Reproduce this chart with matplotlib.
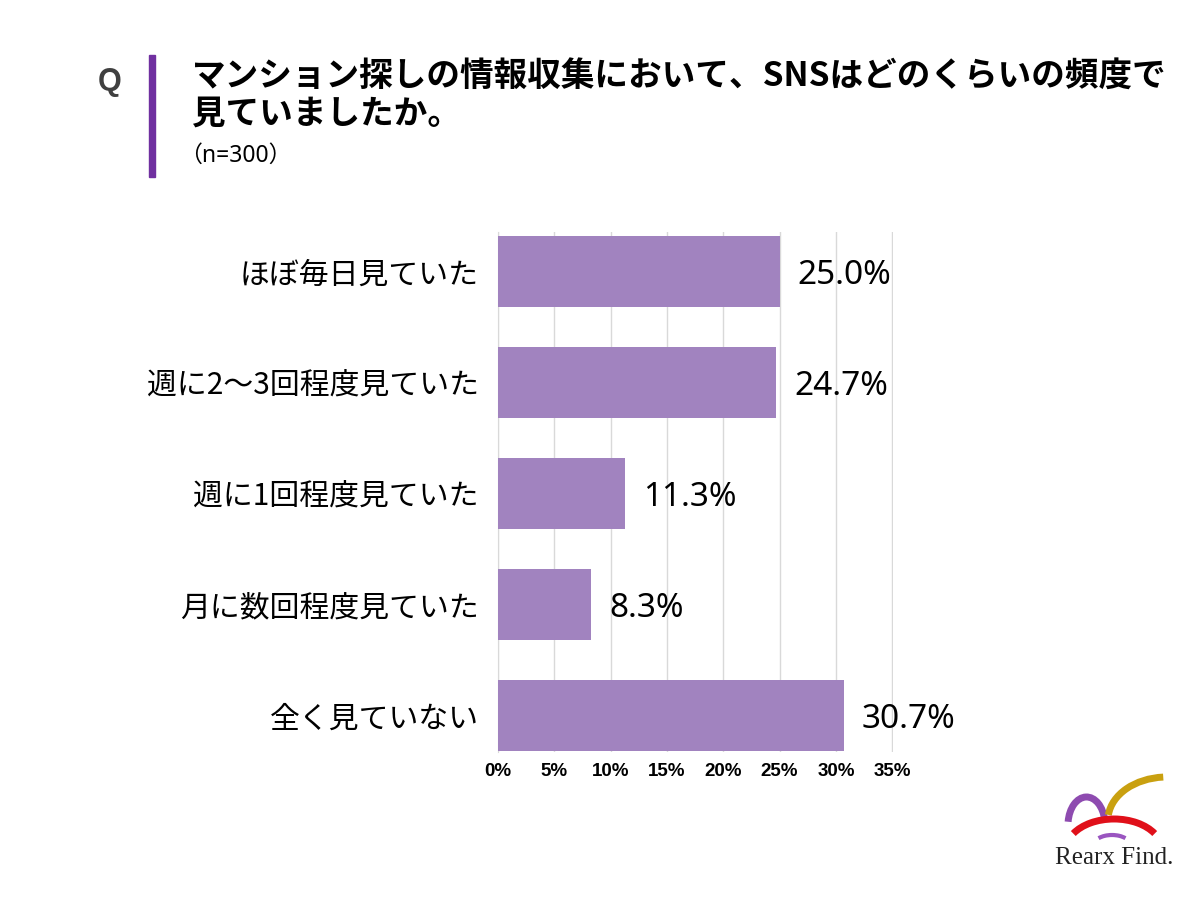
import matplotlib.pyplot as plt
from matplotlib.patches import Arc, Rectangle

plt.rcParams['font.family'] = ['Noto Sans CJK JP', 'DejaVu Sans']

# data
categories = ["ほぼ毎日見ていた", "週に2〜3回程度見ていた", "週に1回程度見ていた",
              "月に数回程度見ていた", "全く見ていない"]
values = [25.0, 24.7, 11.3, 8.3, 30.7]
xticks = [0, 5, 10, 15, 20, 25, 30, 35]
xtick_labels = [f"{t}%" for t in xticks]

bar_color = "#A183BF"
grid_color = "#D9D9D9"

fig = plt.figure(figsize=(12, 9), dpi=100)
ax = fig.add_axes([0.415, 0.1644, 0.3295, 0.578])

y = list(range(len(categories)))
ax.barh(y, values, height=0.64, color=bar_color, zorder=3)
ax.set_xlim(0, 35.1)
ax.set_ylim(4.33, -0.36)
ax.set_xticks(xticks)
ax.set_xticklabels(xtick_labels, fontsize=13.5, fontweight="bold",
                   family=["Liberation Sans", "DejaVu Sans"])
ax.set_yticks(y)
ax.set_yticklabels(categories, fontsize=21.5)
ax.tick_params(axis="both", length=0)
ax.tick_params(axis="y", pad=14)
ax.tick_params(axis="x", pad=8)
ax.grid(axis="x", color=grid_color, linewidth=1, zorder=0)
for s in ["top", "right", "bottom"]:
    ax.spines[s].set_visible(False)
ax.spines["left"].set_color(grid_color)

# value labels
for i, v in enumerate(values):
    ax.annotate(f"{v:.1f}%", (v, i), xytext=(13, -3), textcoords="offset points",
                va="center", ha="left", fontsize=24,
                family=["Noto Sans", "DejaVu Sans"])

# header
fig.text(110 / 1200, 1 - 82 / 900, "Q", fontsize=22, fontweight="bold",
         color="#404040", ha="center", va="center",
         family=["Liberation Sans", "DejaVu Sans"])
fig.add_artist(Rectangle((149 / 1200, 1 - 177 / 900), 6 / 1200, 122 / 900,
                         color="#7030A0", transform=fig.transFigure))
fig.text(192 / 1200, 1 - 77 / 900,
         "マンション探しの情報収集において、SNSはどのくらいの頻度で",
         fontsize=24.2, fontweight="bold", ha="left", va="center")
fig.text(192 / 1200, 1 - 114 / 900, "見ていましたか。",
         fontsize=24.2, fontweight="bold", ha="left", va="center")
fig.text(179 / 1200, 1 - 156 / 900, "（n=300）", fontsize=16.5,
         ha="left", va="center", family=["Noto Sans", "Noto Sans CJK JP"])

# logo
logo = fig.add_axes([1045 / 1200, 1 - 850 / 900, 130 / 1200, 80 / 900])
logo.set_xlim(0, 130)
logo.set_ylim(0, 80)
logo.axis("off")
logo.add_patch(Arc((41.5, 25), 37, 56, theta1=15, theta2=170, color="#8E4BB0", lw=5))
logo.add_patch(Arc((122, 30), 118, 86, theta1=95, theta2=175, color="#C9A010", lw=5))
logo.add_patch(Arc((69, 0), 96, 62, theta1=22, theta2=158, color="#E0101A", lw=5))
logo.add_patch(Arc((67, 4), 38, 22, theta1=30, theta2=150, color="#9A55C0", lw=3))
fig.text(1114 / 1200, 1 - 858 / 900, "Rearx Find.", fontsize=18,
         family=["Liberation Serif", "DejaVu Serif"], ha="center", va="center",
         color="#222222")

fig.savefig("out.png", dpi=100)
